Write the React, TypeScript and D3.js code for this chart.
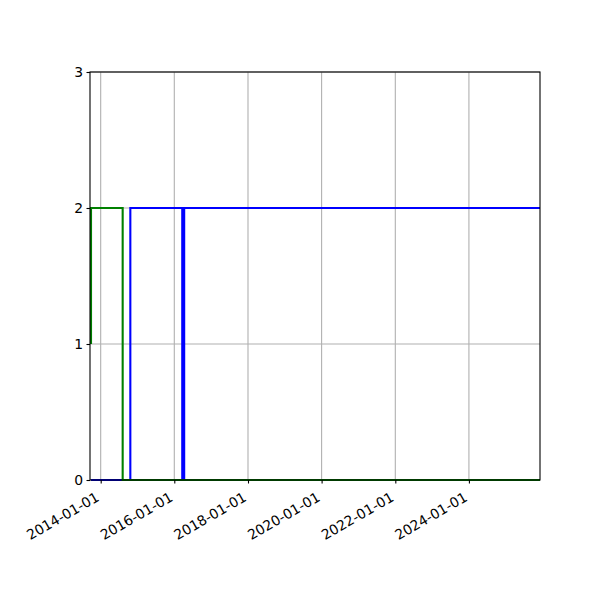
import React, {useEffect, useRef} from 'react';
import * as d3 from 'd3';

const parse = d3.timeParse('%Y-%m-%d');

// x limits and ticks
const xLimits = ['2013-09-17', '2025-12-06'];
const xTicks = ['2014-01-01', '2016-01-01', '2018-01-01', '2020-01-01', '2022-01-01', '2024-01-01'];
const yTicks = [0, 1, 2, 3];

// green series
const greenDates = ['2013-09-27', '2013-09-27', '2014-08-07', '2014-08-07', '2026-06-01'];
const greenValues = [1, 2, 2, 0, 0];

// blue series
const blueDates = ['2013-09-27', '2014-10-22', '2014-10-22', '2016-03-20', '2016-03-20', '2016-04-08', '2016-04-08', '2026-06-01'];
const blueValues = [0, 0, 2, 2, 0, 0, 2, 2];

const App: React.FC = () => {
  const svgRef = useRef<SVGSVGElement>(null);

  useEffect(() => {
    const svg = d3.select(svgRef.current);
    svg.selectAll('*').remove();

    const margin = {top: 72, left: 90, right: 60, bottom: 120};
    const width = 600 - margin.left - margin.right;
    const height = 600 - margin.top - margin.bottom;

    const x = d3
      .scaleTime()
      .domain(xLimits.map((d) => parse(d) as Date))
      .range([0, width]);
    const y = d3.scaleLinear().domain([0, 3]).range([height, 0]);

    const g = svg.append('g').attr('transform', 'translate(' + margin.left + ',' + margin.top + ')');

    g.append('defs')
      .append('clipPath')
      .attr('id', 'plotClip')
      .append('rect')
      .attr('width', width)
      .attr('height', height + 2)
      .attr('y', -1);

    // grid
    g.selectAll('.xgrid')
      .data(xTicks)
      .enter()
      .append('line')
      .attr('x1', (d) => x(parse(d) as Date))
      .attr('x2', (d) => x(parse(d) as Date))
      .attr('y1', 0)
      .attr('y2', height)
      .attr('stroke', '#b0b0b0')
      .attr('stroke-width', 1.1);
    g.selectAll('.ygrid')
      .data(yTicks)
      .enter()
      .append('line')
      .attr('x1', 0)
      .attr('x2', width)
      .attr('y1', (d) => y(d))
      .attr('y2', (d) => y(d))
      .attr('stroke', '#b0b0b0')
      .attr('stroke-width', 1.1);

    const line = d3
      .line<[string, number]>()
      .x((d) => x(parse(d[0]) as Date))
      .y((d) => y(d[1]));

    const series = [
      {dates: blueDates, values: blueValues, color: '#0000ff'},
      {dates: greenDates, values: greenValues, color: '#008000'},
    ];
    series.forEach((s) => {
      g.append('path')
        .datum(s.dates.map((d, i) => [d, s.values[i]] as [string, number]))
        .attr('d', line)
        .attr('fill', 'none')
        .attr('stroke', s.color)
        .attr('stroke-width', 2.1)
        .attr('clip-path', 'url(#plotClip)');
    });

    // x axis
    const xAxis = d3
      .axisBottom(x)
      .tickValues(xTicks.map((d) => parse(d) as Date))
      .tickFormat((d: any) => d3.timeFormat('%Y-%m-%d')(d))
      .tickSize(3.5)
      .tickSizeOuter(0);
    const xg = g.append('g').attr('transform', 'translate(0,' + height + ')').call(xAxis);
    xg.select('.domain').remove();
    xg.selectAll('line').attr('stroke', '#000').attr('stroke-width', 1.1);
    xg.selectAll('text')
      .attr('x', 0)
      .attr('y', 0)
      .attr('dy', 0)
      .attr('text-anchor', 'end')
      .attr('transform', 'translate(-1,20) rotate(-30)')
      .attr('fill', '#000')
      .style('font-size', '13.9px')
      .style('font-family', 'DejaVu Sans');

    // y axis
    const yAxis = d3
      .axisLeft(y)
      .tickValues(yTicks)
      .tickFormat((d: any) => String(d))
      .tickSize(3.5)
      .tickPadding(3.5)
      .tickSizeOuter(0);
    const yg = g.append('g').call(yAxis);
    yg.select('.domain').remove();
    yg.selectAll('line').attr('stroke', '#000').attr('stroke-width', 1.1);
    yg.selectAll('text')
      .attr('fill', '#000')
      .attr('dy', '0.35em')
      .style('font-size', '13.9px')
      .style('font-family', 'DejaVu Sans');

    // spines
    g.append('rect')
      .attr('width', width)
      .attr('height', height)
      .attr('fill', 'none')
      .attr('stroke', '#000')
      .attr('stroke-width', 1.1);
  }, []);

  return (
    <div style={{position: 'absolute', left: 0, top: 0, width: 600, height: 600, background: '#fff'}}>
      <svg ref={svgRef} width={600} height={600}></svg>
    </div>
  );
};

export default App;
